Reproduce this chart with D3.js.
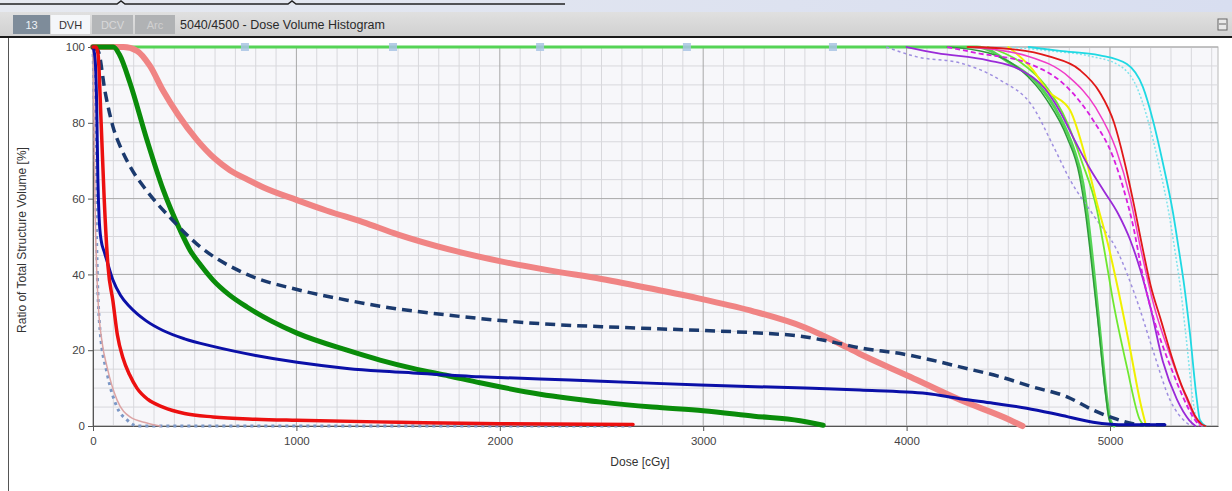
<!DOCTYPE html>
<html><head><meta charset="utf-8">
<script src="https://cdn.jsdelivr.net/npm/d3@7"></script>
<style>
html,body{margin:0;padding:0;background:#fff;}
svg{display:block;font-family:"Liberation Sans","DejaVu Sans",Arial,sans-serif;}
</style></head>
<body>
<svg id="chart" width="1232" height="491"></svg>
<script>
// ---------- data (dose cGy, volume %) ----------
const xTicks = [0, 1000, 2000, 3000, 4000, 5000];
const yTicks = [0, 20, 40, 60, 80, 100];
const tabLabels = ["13", "DVH", "DCV", "Arc"];
const chartTitle = "5040/4500 - Dose Volume Histogram";
const handleDoses = [747, 1475, 2198, 2920, 3638];

const pinkThick = [[0,100],[150,100],[216,99],[280,95],[344,88.5],[420,82],[511,75.5],[600,70.5],[673,67.5],[760,65],[836,63],[1003,59.6],[1150,56.8],[1327,53.8],[1500,50.5],[1750,46.6],[2000,43.5],[2250,41],[2500,38.8],[2750,36.2],[3000,33.4],[3250,30.2],[3500,26],[3650,22.3],[3771,19],[4017,13],[4262,6.9],[4508,1.6],[4570,0]];
const greenThick = [[0,100],[100,100],[130,98],[182,90.5],[265,75.5],[344,62.5],[428,51.7],[477,46.4],[530,42.4],[590,38.5],[670,34.6],[757,31.4],[880,27.6],[1003,24.5],[1249,20],[1411,17.4],[1573,15.2],[1750,13.2],[1903,11.4],[2198,8.4],[2500,6.3],[2750,5],[3000,4],[3250,2.6],[3476,1.4],[3590,0.2]];
const redSteep = [[0,100],[15,100],[25,98],[40,80],[55,60],[74,42],[98,33],[120,24],[147,18],[180,13.5],[216,10],[270,7],[344,5],[450,3.3],[590,2.4],[800,1.8],[1000,1.5],[1500,1.0],[2000,0.6],[2655,0.4]];
const blueSolid = [[0,100],[10,97],[18,85],[24,65],[30,55],[40,49],[55,46],[69,43.5],[98,38.5],[135,34.5],[182,31.4],[260,27.8],[344,25.2],[450,23],[590,21],[800,18.6],[1003,16.8],[1249,15.2],[1411,14.5],[1573,14],[1903,13],[2198,12.4],[2500,11.8],[2985,10.8],[3500,10],[3771,9.5],[4100,8.6],[4262,7.2],[4426,6],[4590,4.7],[4754,2.9],[4917,1],[5080,0.3],[5270,0.3]];
const navyDashed = [[0,100],[25,99],[60,88],[98,79],[140,73],[182,68.5],[265,62],[379,55],[511,48],[757,40],[1003,36],[1249,33.2],[1411,31.6],[1740,29.3],[2198,27],[2600,26],[3000,25.2],[3250,24.6],[3476,23.7],[3650,22],[3771,20.6],[3982,19],[4100,17.7],[4262,15.6],[4459,13],[4621,10.3],[4789,7.7],[4917,4.2],[5000,2.4],[5162,0.3],[5270,0.3]];
const pinkThin = [[0,100],[4,85],[10,59.6],[25,33],[45,22],[69,15.6],[118,6.9],[182,2.4],[265,0.8],[330,0]];
const steelDotted = [[0,100],[8,80],[14,60],[20,43],[35,25],[69,14],[118,5],[167,1.6],[220,0],[2650,0]];
const greenA = [[0,100],[4346,100],[4508,95.8],[4641,90.5],[4754,81.5],[4818,73.6],[4867,64],[4895,53],[4920,41],[4951,24.5],[4985,6.9],[5000,1.6],[5020,0]];
const darkGreen = [[4200,100],[4400,98.5],[4560,94],[4690,86],[4790,76],[4850,66],[4880,56],[4905,45],[4940,28],[4975,10],[4995,2],[5010,0]];
const limeGreen = [[4400,100],[4560,96],[4680,90],[4790,80],[4860,70],[4936,57],[4980,44],[5015,33],[5083,15.6],[5147,1.6],[5170,0]];
const yellowLine = [[4500,100],[4620,94],[4690,88.6],[4803,83.4],[4887,69.4],[4936,58.8],[4990,48],[5040,36],[5100,20],[5150,6],[5175,0.5]];
const purpleSolid = [[4000,100],[4150,98.4],[4400,96.5],[4558,94],[4680,89],[4754,83],[4830,75],[4900,68],[4970,62],[5040,56],[5100,49],[5150,41],[5200,31],[5260,17],[5329,7],[5390,1.5],[5420,0]];
const lavenderDotted = [[3900,100],[4051,97.4],[4262,95.8],[4459,91.3],[4621,84.2],[4720,74],[4803,65],[4920,55.5],[5034,46.4],[5133,33],[5211,20],[5295,6.9],[5378,0.8],[5400,0]];
const magentaDashed = [[4200,100],[4346,98.4],[4592,95.8],[4789,89.4],[4917,80.7],[5015,71],[5080,60],[5113,53],[5160,40],[5211,29],[5260,21],[5310,14],[5360,7.5],[5408,2.4],[5440,0]];
const magentaSolid = [[4300,100],[4600,97.5],[4800,92],[4930,84],[5030,73],[5100,60],[5150,47],[5220,31],[5300,18],[5370,8],[5420,2],[5450,0]];
const redThin = [[4300,100],[4500,99.5],[4700,97.5],[4850,94],[4950,88],[5020,80],[5070,70],[5113,59.6],[5160,47],[5200,37],[5250,28],[5305,18],[5350,11],[5383,6.9],[5420,2.5],[5450,0.5],[5470,0]];
const cyanSolid = [[4600,100],[4754,99],[4950,97.8],[5083,95.5],[5162,89.4],[5211,80.7],[5260,69.4],[5310,56.2],[5340,46],[5365,37],[5393,24.5],[5427,6.9],[5442,1.6],[5470,0]];
const cyanDotted = [[4500,100],[4700,99],[4900,97.6],[5050,95],[5135,89],[5190,80],[5240,69],[5290,56],[5320,46],[5345,37],[5375,23],[5410,6],[5430,1],[5460,0]];

// ---------- layout ----------
const svg = d3.select("#chart");
const W = 1232, H = 491;
const x = d3.scaleLinear().domain([0, 5531]).range([93, 1218]);
const y = d3.scaleLinear().domain([0, 100]).range([426, 47]);

const defs = svg.append("defs");
const g1 = defs.append("linearGradient").attr("id","topg").attr("x1",0).attr("x2",1).attr("y1",0).attr("y2",0);
g1.append("stop").attr("offset","0%").attr("stop-color","#e6e9f0");
g1.append("stop").attr("offset","100%").attr("stop-color","#d8def0");
const g2 = defs.append("linearGradient").attr("id","barg").attr("x1",0).attr("x2",0).attr("y1",0).attr("y2",1);
g2.append("stop").attr("offset","0%").attr("stop-color","#e0e0e0");
g2.append("stop").attr("offset","100%").attr("stop-color","#d0d0d0");

svg.append("rect").attr("x",0).attr("y",0).attr("width",W).attr("height",12).attr("fill","url(#topg)");
svg.append("rect").attr("x",0).attr("y",12).attr("width",W).attr("height",25).attr("fill","url(#barg)");
svg.append("path").attr("d","M0,4 H117 L121,1 L125,4 H288 L292,1 L296,4 H565")
  .attr("fill","none").attr("stroke","#222").attr("stroke-width",1.5);
svg.append("line").attr("x1",0).attr("x2",W).attr("y1",37).attr("y2",37).attr("stroke","#1a1a1a").attr("stroke-width",2);

const tabSpec = [
  {x:13, w:37, bg:"#7e8c9a", fg:"#eef2f6"},
  {x:51, w:39, bg:"#f4f6f9", fg:"#333"},
  {x:92, w:41, bg:"#b4b6b8", fg:"#d8d8d8"},
  {x:135, w:40, bg:"#b0b2b4", fg:"#d0d0d0"}
];
tabLabels.forEach((t,i)=>{
  const s = tabSpec[i];
  svg.append("rect").attr("x",s.x).attr("y",15).attr("width",s.w).attr("height",19).attr("fill",s.bg);
  svg.append("text").attr("x",s.x+s.w/2).attr("y",28.5).attr("text-anchor","middle")
    .attr("font-size",11).attr("fill",s.fg).text(t);
});
svg.append("text").attr("x",180).attr("y",29).attr("font-size",12.5).attr("fill","#2a2a2a").text(chartTitle);
svg.append("rect").attr("x",1218).attr("y",19).attr("width",9).attr("height",11).attr("fill","#e8e8e8").attr("stroke","#666").attr("stroke-width",1);
svg.append("line").attr("x1",1219).attr("x2",1226).attr("y1",24).attr("y2",24).attr("stroke","#666");

svg.append("line").attr("x1",8.5).attr("x2",8.5).attr("y1",38).attr("y2",H).attr("stroke","#555").attr("stroke-width",1);

svg.append("rect").attr("x",x(0)).attr("y",y(100)).attr("width",x(5531)-x(0)).attr("height",y(0)-y(100))
  .attr("fill","#f7f7fa").attr("stroke","#b8b8b8");

const gridG = svg.append("g");
d3.range(100, 5531, 100).forEach(d=>{
  if (d % 1000 === 0) return;
  gridG.append("line").attr("x1",x(d)).attr("x2",x(d)).attr("y1",y(0)).attr("y2",y(100)).attr("stroke","#d8d8dc").attr("stroke-width",1);
});
d3.range(5, 100, 5).forEach(d=>{
  if (d % 20 === 0) return;
  gridG.append("line").attr("x1",x(0)).attr("x2",x(5531)).attr("y1",y(d)).attr("y2",y(d)).attr("stroke","#d8d8dc").attr("stroke-width",1);
});
xTicks.forEach(d=>{
  gridG.append("line").attr("x1",x(d)).attr("x2",x(d)).attr("y1",y(0)).attr("y2",y(100)).attr("stroke","#a8a8a8").attr("stroke-width",1);
});
yTicks.forEach(d=>{
  gridG.append("line").attr("x1",x(0)).attr("x2",x(5531)).attr("y1",y(d)).attr("y2",y(d)).attr("stroke","#a8a8a8").attr("stroke-width",1);
});

const xAxis = d3.axisBottom(x).tickValues(xTicks).tickFormat(d3.format("d")).tickSize(5).tickSizeOuter(0).tickPadding(6);
const yAxis = d3.axisLeft(y).tickValues(yTicks).tickFormat(d3.format("d")).tickSize(5).tickSizeOuter(0).tickPadding(3);
const gx = svg.append("g").attr("transform",`translate(0,${y(0)})`).call(xAxis);
const gy = svg.append("g").attr("transform",`translate(${x(0)},0)`).call(yAxis);
[gx,gy].forEach(g=>{
  g.select(".domain").attr("stroke","#555");
  g.selectAll(".tick line").attr("stroke","#555");
  g.selectAll(".tick text").attr("fill","#444").attr("font-size",11.5)
    .attr("font-family",'"Liberation Sans","DejaVu Sans",Arial,sans-serif');
});

svg.append("text").attr("x",640).attr("y",466).attr("text-anchor","middle").attr("font-size",12).attr("fill","#333").text("Dose [cGy]");
svg.append("text").attr("transform","translate(26,240) rotate(-90)").attr("text-anchor","middle")
  .attr("font-size",12).attr("fill","#333").text("Ratio of Total Structure Volume [%]");

const line = d3.line().x(d=>x(d[0])).y(d=>y(d[1])).curve(d3.curveMonotoneX);
const curveG = svg.append("g");
function draw(data, color, width, dash, opacity){
  curveG.append("path").datum(data).attr("d", line).attr("fill","none")
    .attr("stroke", color).attr("stroke-width", width)
    .attr("stroke-linejoin","round").attr("stroke-linecap", dash ? "butt" : "round")
    .attr("stroke-dasharray", dash || null).attr("opacity", opacity || 1);
}
draw(steelDotted, "#7b97c6", 3, "3,4");
draw(pinkThin, "#dca4a4", 1.5);
draw(greenA, "#55d455", 3);
draw(lavenderDotted, "#9f8fe0", 1.5, "3,3");
draw(cyanDotted, "#80e4ec", 1.5, "2,2");
draw(cyanSolid, "#1fd9e3", 1.8);
draw(darkGreen, "#2f9a3a", 1.5);
draw(limeGreen, "#6ee830", 1.8);
draw(yellowLine, "#f0f000", 2);
draw(purpleSolid, "#9a2ad8", 1.8);
draw(magentaSolid, "#f03cc8", 1.5);
draw(magentaDashed, "#d81ee0", 1.8, "5,3");
draw(redThin, "#e01818", 1.8);
draw(pinkThick, "#f08484", 6);
draw(greenThick, "#0a8c0a", 5);
draw(navyDashed, "#1b3a6e", 3.5, "10,6");
draw(blueSolid, "#0b10a8", 3);
draw(redSteep, "#ec1010", 3.5);

curveG.selectAll("rect.handle").data(handleDoses).enter().append("rect").attr("class","handle")
  .attr("x", d=>x(d)-4).attr("y", y(100)-4).attr("width",8).attr("height",8)
  .attr("fill","#a9c4e4").attr("opacity",0.85);
</script>
</body></html>
